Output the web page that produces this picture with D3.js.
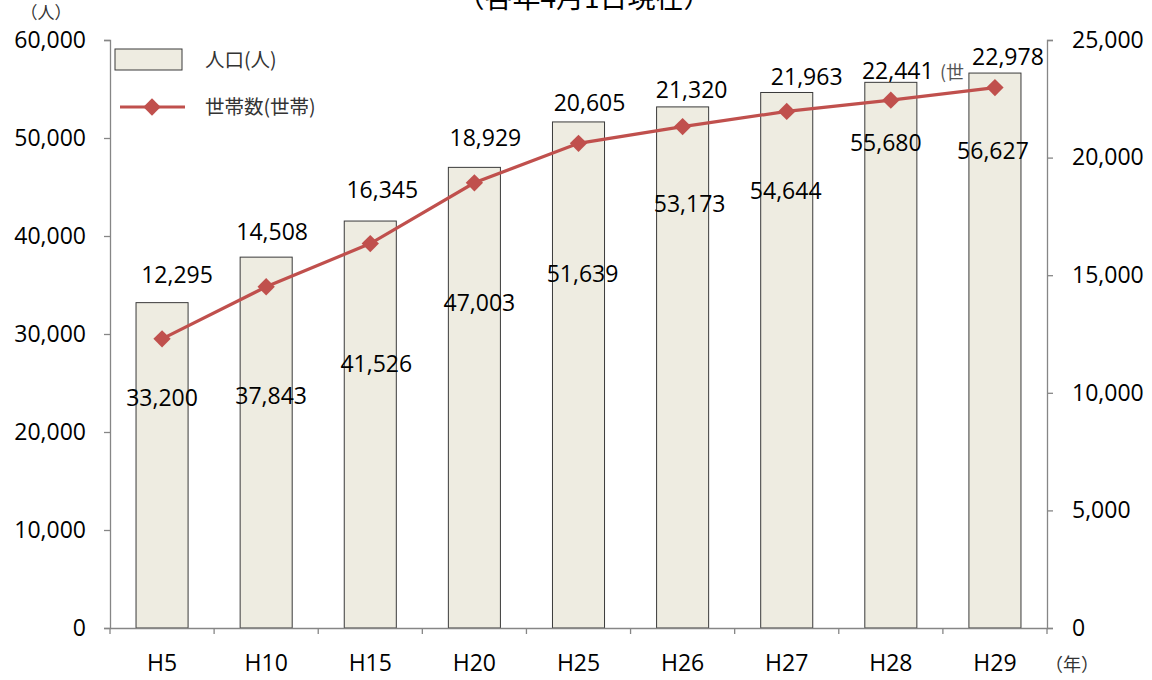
<!DOCTYPE html>
<html>
<head>
<meta charset="utf-8">
<script src="https://cdn.jsdelivr.net/npm/d3@7"></script>
<style>
  body { margin: 0; background: #fff; }
  svg text { font-family: "Open Sans", "Liberation Sans", sans-serif; }
  .jp { font-family: "Noto Sans CJK JP", sans-serif; }
</style>
</head>
<body>
<div class="chart"></div>
<script>
// data
var years = ["H5", "H10", "H15", "H20", "H25", "H26", "H27", "H28", "H29"];
var population = [33200, 37843, 41526, 47003, 51639, 53173, 54644, 55680, 56627];
var households = [12295, 14508, 16345, 18929, 20605, 21320, 21963, 22441, 22978];
var leftTicks = [0, 10000, 20000, 30000, 40000, 50000, 60000];
var rightTicks = [0, 5000, 10000, 15000, 20000, 25000];

// hand placed label nudges (px) - labels in the original were dragged around
var popLabelNudge = [[0, 95], [5, 139], [6, 143], [5, 136], [4, 152], [7, 97], [-1, 98], [-5, 61], [-2, 78]];
var hhLabelNudge = [[15, -64], [6, -55], [12, -54], [11, -45], [11, -40], [9, -37], [20, -34], [7, -29], [13, -31]];

var svgWidth = 1152, svgHeight = 680;
var plotLeft = 110, plotRight = 1047, plotTop = 40, plotBottom = 628;
var numSize = 23;

var svg = d3.select(".chart").append("svg")
  .attr("width", svgWidth)
  .attr("height", svgHeight);

var x = d3.scaleBand().domain(years).range([plotLeft, plotRight])
  .paddingInner(0.5).paddingOuter(0.25);
var yLeft = d3.scaleLinear().domain([0, 60000]).range([plotBottom, plotTop]);
var yRight = d3.scaleLinear().domain([0, 25000]).range([plotBottom, plotTop]);
var fmt = d3.format(",");

// title (cut off at top in the original)
svg.append("text").attr("class", "jp")
  .attr("x", 584).attr("y", 8)
  .attr("text-anchor", "middle")
  .attr("font-size", 28)
  .attr("fill", "#000")
  .text("（各年4月1日現在）");

// bars
svg.selectAll("rect.bar")
  .data(population)
  .enter()
  .append("rect")
  .attr("class", "bar")
  .attr("x", (d, i) => x(years[i]))
  .attr("y", d => yLeft(d))
  .attr("width", x.bandwidth())
  .attr("height", d => plotBottom - yLeft(d))
  .attr("fill", "#EEECE1")
  .attr("stroke", "#3a3a3a")
  .attr("stroke-width", 1);

// axes
function styleAxis(g) {
  g.selectAll("path, line").attr("stroke", "#868686").attr("stroke-width", 1.3);
  g.selectAll("text").attr("fill", "#000").attr("font-size", numSize)
    .attr("font-family", "'Open Sans', sans-serif");
}

svg.append("g")
  .attr("transform", `translate(${plotLeft},0)`)
  .call(d3.axisLeft(yLeft).tickValues(leftTicks).tickFormat(fmt).tickSizeOuter(0).tickSize(6).tickPadding(18))
  .call(styleAxis);

svg.append("g")
  .attr("transform", `translate(${plotRight},0)`)
  .call(d3.axisRight(yRight).tickValues(rightTicks).tickFormat(fmt).tickSizeOuter(0).tickSize(6).tickPadding(19))
  .call(styleAxis);

var xAxis = svg.append("g")
  .attr("transform", `translate(0,${plotBottom})`)
  .call(d3.axisBottom(x).tickSize(0).tickSizeOuter(0).tickPadding(27))
  .call(styleAxis);

// category boundary ticks
xAxis.selectAll("line.bound")
  .data(d3.range(years.length + 1))
  .enter()
  .append("line")
  .attr("class", "bound")
  .attr("x1", i => plotLeft + i * x.step())
  .attr("x2", i => plotLeft + i * x.step())
  .attr("y1", 0)
  .attr("y2", 6)
  .attr("stroke", "#868686")
  .attr("stroke-width", 1.3);

// unit labels
svg.append("text").attr("class", "jp")
  .attr("x", 46).attr("y", 19).attr("text-anchor", "middle")
  .attr("font-size", 17).attr("fill", "#333")
  .text("（人）");
svg.append("text").attr("class", "jp")
  .attr("x", 1072).attr("y", 671).attr("text-anchor", "middle")
  .attr("font-size", 18).attr("fill", "#333")
  .text("（年）");
svg.append("text").attr("class", "jp")
  .attr("x", 940).attr("y", 79)
  .attr("font-size", 18).attr("fill", "#555")
  .text("(世");

// household line
var line = d3.line()
  .x((d, i) => x(years[i]) + x.bandwidth() / 2)
  .y(d => yRight(d));

svg.append("path")
  .datum(households)
  .attr("d", line)
  .attr("fill", "none")
  .attr("stroke", "#C0504D")
  .attr("stroke-width", 3.2);

var diamond = d3.symbol().type(d3.symbolSquare).size(150);
svg.selectAll("path.marker")
  .data(households)
  .enter()
  .append("path")
  .attr("class", "marker")
  .attr("d", diamond)
  .attr("transform", (d, i) => `translate(${x(years[i]) + x.bandwidth() / 2},${yRight(d)}) rotate(45)`)
  .attr("fill", "#C0504D");

// population labels
svg.selectAll("text.pop")
  .data(population)
  .enter()
  .append("text")
  .attr("class", "pop")
  .attr("x", (d, i) => x(years[i]) + x.bandwidth() / 2 + popLabelNudge[i][0])
  .attr("y", (d, i) => yLeft(d) + popLabelNudge[i][1])
  .attr("dy", "0.35em")
  .attr("text-anchor", "middle")
  .attr("font-size", numSize)
  .attr("fill", "#000")
  .text(d => fmt(d));

// household labels
svg.selectAll("text.hh")
  .data(households)
  .enter()
  .append("text")
  .attr("class", "hh")
  .attr("x", (d, i) => x(years[i]) + x.bandwidth() / 2 + hhLabelNudge[i][0])
  .attr("y", (d, i) => yRight(d) + hhLabelNudge[i][1])
  .attr("dy", "0.35em")
  .attr("text-anchor", "middle")
  .attr("font-size", numSize)
  .attr("fill", "#000")
  .text(d => fmt(d));

// legend
var legend = svg.append("g");
legend.append("rect")
  .attr("x", 115).attr("y", 49).attr("width", 67).attr("height", 21)
  .attr("fill", "#EEECE1").attr("stroke", "#3a3a3a");
legend.append("text").attr("class", "jp")
  .attr("x", 205).attr("y", 67).attr("font-size", 19.5).attr("fill", "#333")
  .text("人口(人)");
legend.append("line")
  .attr("x1", 120).attr("x2", 185).attr("y1", 107).attr("y2", 107)
  .attr("stroke", "#C0504D").attr("stroke-width", 3.2);
legend.append("path")
  .attr("d", diamond)
  .attr("transform", "translate(152,107) rotate(45)")
  .attr("fill", "#C0504D");
legend.append("text").attr("class", "jp")
  .attr("x", 205).attr("y", 114).attr("font-size", 19.5).attr("fill", "#333")
  .text("世帯数(世帯)");
</script>
</body>
</html>
